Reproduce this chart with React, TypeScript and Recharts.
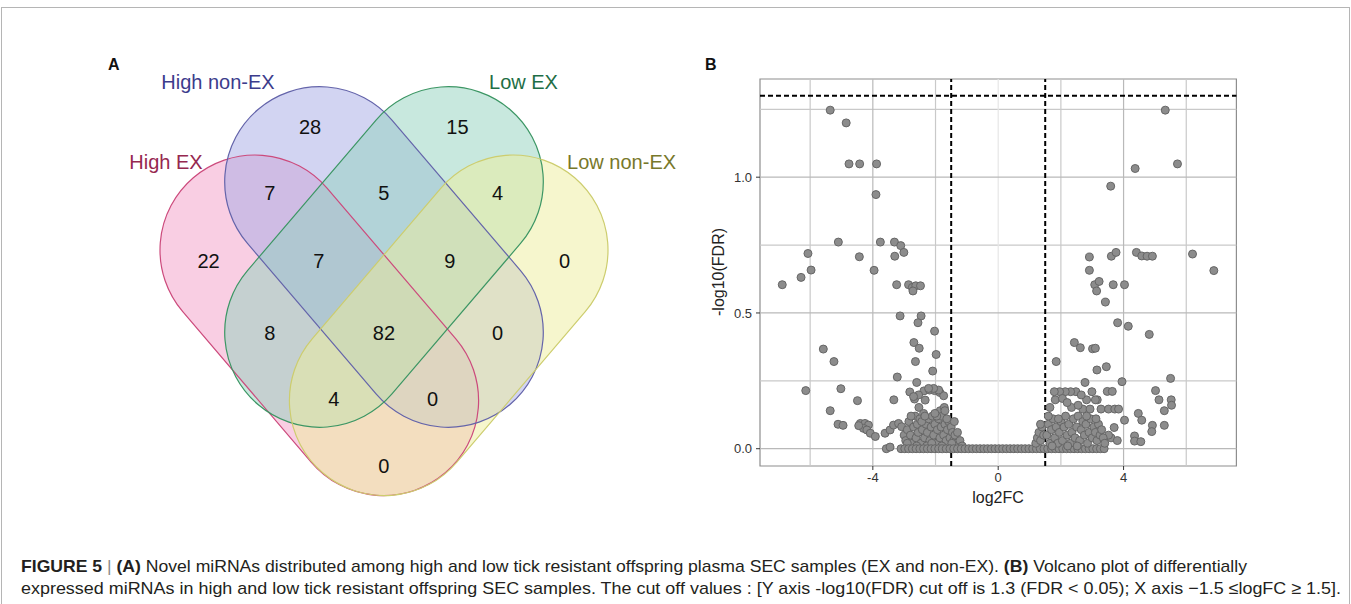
import React from 'react';
import { ScatterChart, Scatter, XAxis, YAxis, ReferenceLine, ReferenceArea } from 'recharts';

const FONT = '"Liberation Sans", Arial, Helvetica, sans-serif';

// ---------------- Venn (panel A) ----------------
const setNames = ['High EX', 'High non-EX', 'Low EX', 'Low non-EX'];
const setCx = [319.3, 384, 384, 448.7];
const setCy = [325.3, 257, 257, 325.3];
const setTilt = [49.5, 49.5, -49.5, -49.5];
const SET_HALF_LEN = 99;
const SET_RADIUS = 95;
const setFill = ['#f39dc7', '#a5aae6', '#91d2be', '#eded9b'];
const setStroke = ['#cc4a7c', '#6464aa', '#3c9664', '#cdcd6e'];
const setLabelColor = ['#962850', '#3c3c8c', '#1e6e46', '#78782a'];
const setLabelX = [166, 218, 523.5, 621.6];
const setLabelY = [161.7, 81.7, 81.7, 161.7];

const regionCounts = [28, 15, 7, 5, 4, 22, 7, 9, 0, 8, 82, 0, 4, 0, 0];
const regionX = [310, 457.4, 269.9, 383.9, 497.6, 208.6, 318.9, 449.7, 564.6, 269.9, 383.9, 497.6, 333.8, 432.5, 383.9];
const regionY = [126.7, 126.7, 193, 193, 193, 260.5, 260.5, 260.5, 260.5, 333, 333, 333, 399.3, 399.3, 466];

const setData = setNames.map((name, i) => ({ x: setCx[i], y: setCy[i], name, tilt: setTilt[i], fill: setFill[i], stroke: setStroke[i] }));
const setLabelData = setNames.map((name, i) => ({ x: setLabelX[i], y: setLabelY[i], name, color: setLabelColor[i] }));
const regionData = regionCounts.map((c, i) => ({ x: regionX[i], y: regionY[i], count: c }));

const stadium = (p: any, mode: 'fill' | 'stroke') => {
  const { cx, cy, payload } = p;
  const w = 2 * (SET_HALF_LEN + SET_RADIUS);
  return (
    <rect
      x={cx - w / 2}
      y={cy - SET_RADIUS}
      width={w}
      height={2 * SET_RADIUS}
      rx={SET_RADIUS}
      ry={SET_RADIUS}
      transform={`rotate(${payload.tilt} ${cx} ${cy})`}
      fill={mode === 'fill' ? payload.fill : 'none'}
      fillOpacity={mode === 'fill' ? 0.5 : 0}
      stroke={mode === 'stroke' ? payload.stroke : 'none'}
      strokeWidth={1.2}
    />
  );
};

const VennChart = () => (
  <ScatterChart width={700} height={520} margin={{ top: 0, right: 0, bottom: 0, left: 0 }}>
    <XAxis type="number" dataKey="x" domain={[0, 700]} hide />
    <YAxis type="number" dataKey="y" domain={[0, 520]} reversed hide />
    <Scatter data={setData} isAnimationActive={false} shape={(p: any) => stadium(p, 'fill')} />
    <Scatter data={setData} isAnimationActive={false} shape={(p: any) => stadium(p, 'stroke')} />
    <Scatter
      data={setLabelData}
      isAnimationActive={false}
      shape={(p: any) => (
        <text x={p.cx} y={p.cy} textAnchor="middle" dominantBaseline="central" fontSize={20} fill={p.payload.color} fontFamily={FONT}>
          {p.payload.name}
        </text>
      )}
    />
    <Scatter
      data={regionData}
      isAnimationActive={false}
      shape={(p: any) => (
        <text x={p.cx} y={p.cy} textAnchor="middle" dominantBaseline="central" fontSize={20} fill="#111" fontFamily={FONT}>
          {p.payload.count}
        </text>
      )}
    />
  </ScatterChart>
);

// ---------------- Volcano (panel B) ----------------
const xTicks = [-4, 0, 4];
const yTicks = [0, 0.5, 1.0];
const xMinorGrid = [-6, -2, 2, 6];
const yMinorGrid = [0.25, 0.75, 1.25];
const fcCutoffs = [-1.5, 1.5];
const fdrCutoff = 1.3;
const X_DOMAIN = [-7.6, 7.6];
const Y_DOMAIN = [-0.0637, 1.3617];

const downUpper = [
  [-5.36, 1.247], [-4.85, 1.2], [-4.76, 1.049], [-4.42, 1.049], [-3.88, 1.049], [-3.9, 0.936],
  [-3.76, 0.761], [-5.1, 0.761], [-4.43, 0.707], [-6.07, 0.719], [-5.97, 0.658], [-6.29, 0.631], [-6.89, 0.604], [-3.96, 0.657],
  [-3.31, 0.761], [-3.11, 0.748], [-3.01, 0.723], [-3.3, 0.709],
  [-3.24, 0.604], [-2.86, 0.604], [-2.74, 0.594], [-2.63, 0.6], [-2.48, 0.6], [-2.72, 0.581],
  [-3.13, 0.489], [-2.46, 0.489], [-2.56, 0.464], [-2.03, 0.433], [-2.69, 0.391], [-2.52, 0.37], [-1.98, 0.347], [-2.64, 0.321],
  [-2.09, 0.286], [-3.22, 0.264], [-2.6, 0.244],
  [-5.58, 0.367], [-5.24, 0.321], [-6.14, 0.214], [-5.02, 0.221], [-4.49, 0.177], [-5.36, 0.14],
  [-3.33, 0.18], [-2.82, 0.209], [-2.67, 0.183], [-2.33, 0.179], [-2.37, 0.213], [-2.19, 0.216], [-2.03, 0.214], [-1.86, 0.207],
  [-1.74, 0.195], [-2.53, 0.152], [-2.54, 0.198], [-2.7, 0.192], [-1.85, 0.14], [-1.72, 0.152], [-1.9, 0.216], [-2.06, 0.222], [-2.22, 0.222],
];

const downLower = [
  [-5.11, 0.09], [-4.95, 0.086],
  [-4.4, 0.093], [-4.25, 0.093], [-4.14, 0.087], [-4.3, 0.075], [-4.19, 0.069], [-4.08, 0.057], [-3.92, 0.045], [-4.45, 0.085],
  [-3.57, 0.0], [-3.45, 0.006], [-3.61, 0.057], [-3.45, 0.069], [-3.34, 0.087], [-3.18, 0.093], [-3.08, 0.081],
  [-3.0, 0.05], [-2.95, 0.03], [-2.9, 0.07], [-2.85, 0.1], [-2.8, 0.05], [-2.75, 0.02], [-2.7, 0.08], [-2.65, 0.12], [-2.62, 0.04],
  [-2.58, 0.09], [-2.55, 0.06], [-2.5, 0.11], [-2.46, 0.02], [-2.42, 0.07], [-2.38, 0.13], [-2.35, 0.04], [-2.3, 0.09], [-2.26, 0.06],
  [-2.22, 0.11], [-2.18, 0.03], [-2.14, 0.08], [-2.1, 0.12], [-2.06, 0.05], [-2.02, 0.09], [-1.98, 0.02], [-1.94, 0.07], [-1.9, 0.11],
  [-1.86, 0.04], [-1.82, 0.08], [-1.78, 0.12], [-1.74, 0.05], [-1.7, 0.09], [-1.66, 0.03], [-1.62, 0.07], [-1.58, 0.1], [-1.54, 0.04],
  [-1.5, 0.08], [-1.46, 0.06], [-1.42, 0.03], [-1.38, 0.05], [-1.34, 0.02],
  [-2.9, 0.02], [-2.78, 0.12], [-2.6, 0.01], [-2.44, 0.1], [-2.28, 0.01], [-2.12, 0.02], [-1.96, 0.12], [-1.8, 0.01], [-1.64, 0.11],
  [-1.48, 0.02], [-2.34, 0.12], [-2.02, 0.13], [-1.7, 0.14], [-1.4, 0.1], [-1.3, 0.06], [-1.22, 0.03], [-1.15, 0.01],
];

const zeroBandX = [
  -3.1, -2.98, -2.86, -2.74, -2.62, -2.5, -2.38, -2.26, -2.14, -2.02, -1.9, -1.78, -1.66, -1.54, -1.42, -1.3, -1.18, -1.06,
  -0.94, -0.82, -0.7, -0.58, -0.46, -0.34, -0.22, -0.1, 0.02, 0.14, 0.26, 0.38, 0.5, 0.62, 0.74, 0.86, 0.98, 1.1, 1.22, 1.34,
  1.46, 1.58, 1.7, 1.82, 1.94, 2.06, 2.18, 2.3, 2.42, 2.54, 2.66, 2.78, 2.9, 3.02, 3.14, 3.26, 3.38,
];

const upUpper = [
  [5.33, 1.247], [5.72, 1.049], [4.37, 1.032], [3.59, 0.967], [2.91, 0.706], [2.91, 0.657], [3.61, 0.709], [3.76, 0.723],
  [4.41, 0.723], [4.58, 0.71], [4.75, 0.709], [4.92, 0.709], [6.2, 0.717], [6.88, 0.656], [3.08, 0.604], [3.22, 0.616],
  [3.14, 0.581], [3.67, 0.604], [4.03, 0.604], [3.42, 0.54], [3.81, 0.464], [4.15, 0.451], [4.82, 0.421], [2.43, 0.391],
  [2.62, 0.372], [3.01, 0.368], [3.1, 0.37], [1.85, 0.321], [3.45, 0.302], [3.15, 0.29], [2.77, 0.244], [3.95, 0.247],
  [5.5, 0.259], [5.02, 0.214], [5.13, 0.18], [5.52, 0.18], [5.53, 0.16], [5.3, 0.14], [4.47, 0.13],
  [3.48, 0.211], [3.64, 0.211], [2.99, 0.21], [3.16, 0.18], [3.28, 0.146], [2.82, 0.18], [3.1, 0.18], [2.48, 0.21], [2.65, 0.198],
  [2.31, 0.21], [2.14, 0.21], [1.96, 0.21], [1.79, 0.21], [1.82, 0.18], [2.05, 0.185], [2.34, 0.152], [2.7, 0.146], [2.93, 0.146],
  [3.52, 0.146], [3.72, 0.146], [3.84, 0.146], [1.65, 0.152], [2.2, 0.17], [2.55, 0.16],
];

const upLower = [
  [4.58, 0.105], [4.03, 0.105], [4.92, 0.086], [4.9, 0.063], [5.3, 0.086], [4.35, 0.047], [4.35, 0.028], [4.55, 0.026],
  [3.7, 0.078], [3.6, 0.04], [3.8, 0.03], [3.52, 0.05],
  [1.2, 0.02], [1.25, 0.04], [1.3, 0.06], [1.35, 0.03], [1.4, 0.08], [1.45, 0.05], [1.35, 0.09],
  [1.55, 0.05], [1.6, 0.09], [1.65, 0.02], [1.7, 0.07], [1.75, 0.11], [1.8, 0.04], [1.85, 0.08], [1.9, 0.02], [1.95, 0.06],
  [2.0, 0.1], [2.05, 0.03], [2.1, 0.08], [2.15, 0.12], [2.2, 0.05], [2.25, 0.09], [2.3, 0.02], [2.35, 0.06], [2.4, 0.11],
  [2.45, 0.04], [2.5, 0.08], [2.55, 0.12], [2.6, 0.03], [2.65, 0.07], [2.7, 0.1], [2.75, 0.05], [2.8, 0.09], [2.85, 0.02],
  [2.9, 0.06], [2.95, 0.11], [3.0, 0.04], [3.05, 0.08], [3.1, 0.06], [3.15, 0.03], [3.2, 0.09], [3.25, 0.05], [3.3, 0.07],
  [3.35, 0.04], [3.4, 0.02], [1.6, 0.12], [1.92, 0.11], [2.22, 0.01], [2.52, 0.01], [2.82, 0.12], [3.12, 0.11], [1.72, 0.01],
];

const toPts = (arr: number[][]) => arr.map(([x, y]) => ({ x, y }));
const volcanoData = [
  ...toPts(downUpper),
  ...toPts(downLower),
  ...zeroBandX.map((x) => ({ x, y: 0 })),
  ...toPts(upUpper),
  ...toPts(upLower),
];

const Dot = (p: any) => <circle cx={p.cx} cy={p.cy} r={4} fill="#8c8c8c" stroke="#666" strokeWidth={1} />;

const VolcanoChart = () => (
  <ScatterChart width={560} height={450} margin={{ top: 29, right: 13.6, bottom: 4, left: 0 }}>
    <XAxis
      type="number"
      dataKey="x"
      domain={X_DOMAIN}
      ticks={xTicks}
      allowDataOverflow
      height={30}
      tickSize={4}
      tickMargin={3}
      axisLine={false}
      tickLine={{ stroke: '#333' }}
      tick={{ fill: '#333', fontSize: 13, fontFamily: FONT }}
    />
    <YAxis
      type="number"
      dataKey="y"
      domain={Y_DOMAIN}
      ticks={yTicks}
      allowDataOverflow
      width={70}
      tickSize={4}
      tickMargin={4}
      axisLine={false}
      tickLine={{ stroke: '#333' }}
      tickFormatter={(v: number) => v.toFixed(1)}
      tick={{ fill: '#333', fontSize: 13, fontFamily: FONT }}
    />
    {xMinorGrid.map((v) => (
      <ReferenceLine key={'xm' + v} x={v} stroke="#c9c9c9" strokeWidth={1.2} />
    ))}
    {yMinorGrid.map((v) => (
      <ReferenceLine key={'ym' + v} y={v} stroke="#c9c9c9" strokeWidth={1.2} />
    ))}
    {xTicks.map((v) => (
      <ReferenceLine key={'xg' + v} x={v} stroke={v === 0 ? '#e6e6e6' : '#b9b9b9'} strokeWidth={1.2} />
    ))}
    {yTicks.map((v) => (
      <ReferenceLine key={'yg' + v} y={v} stroke="#b9b9b9" strokeWidth={1.2} />
    ))}
    <ReferenceArea x1={X_DOMAIN[0]} x2={X_DOMAIN[1]} y1={Y_DOMAIN[0]} y2={Y_DOMAIN[1]} fill="none" fillOpacity={0} stroke="#8e8e8e" strokeWidth={1.2} />
    <Scatter data={volcanoData} isAnimationActive={false} shape={Dot} />
    {fcCutoffs.map((v) => (
      <ReferenceLine key={'fc' + v} x={v} stroke="#000" strokeWidth={2} strokeDasharray="5 3" />
    ))}
    <ReferenceLine y={fdrCutoff} stroke="#000" strokeWidth={2} strokeDasharray="5 3" />
  </ScatterChart>
);

export default function App() {
  return (
    <div style={{ position: 'absolute', left: 0, top: 0, width: 1351, height: 604, background: '#fff', overflow: 'hidden', fontFamily: FONT }}>
      <div style={{ position: 'absolute', left: 1, top: 7, width: 1347, height: 640, border: '1px solid #b5b5b5' }} />
      <div style={{ position: 'absolute', left: 0, top: 0 }}>
        <VennChart />
      </div>
      <div style={{ position: 'absolute', left: 690, top: 50 }}>
        <VolcanoChart />
      </div>
      <svg width={1351} height={604} style={{ position: 'absolute', left: 0, top: 0, pointerEvents: 'none' }}>
        <text x={108} y={70} fontSize={16} fontWeight="bold" fill="#111" fontFamily={FONT}>A</text>
        <text x={705} y={70} fontSize={16} fontWeight="bold" fill="#111" fontFamily={FONT}>B</text>
        <text x={998} y={503} textAnchor="middle" fontSize={16} fill="#222" fontFamily={FONT}>log2FC</text>
        <text x={0} y={0} transform="translate(724 272) rotate(-90)" textAnchor="middle" fontSize={16} fill="#222" fontFamily={FONT}>-log10(FDR)</text>
        <text x={21} y={572} fontSize={17} fill="#231f20" fontFamily={FONT} textLength={1226} lengthAdjust="spacingAndGlyphs">
          <tspan fontWeight="bold">FIGURE 5</tspan>
          <tspan fill="#8a8a8a"> | </tspan>
          <tspan fontWeight="bold">(A)</tspan>
          <tspan> Novel miRNAs distributed among high and low tick resistant offspring plasma SEC samples (EX and non-EX). </tspan>
          <tspan fontWeight="bold">(B)</tspan>
          <tspan> Volcano plot of differentially</tspan>
        </text>
        <text x={21} y={594} fontSize={17} fill="#231f20" fontFamily={FONT} textLength={1320} lengthAdjust="spacingAndGlyphs">
          expressed miRNAs in high and low tick resistant offspring SEC samples. The cut off values : [Y axis -log10(FDR) cut off is 1.3 (FDR &lt; 0.05); X axis −1.5 ≤logFC ≥ 1.5].
        </text>
      </svg>
    </div>
  );
}
